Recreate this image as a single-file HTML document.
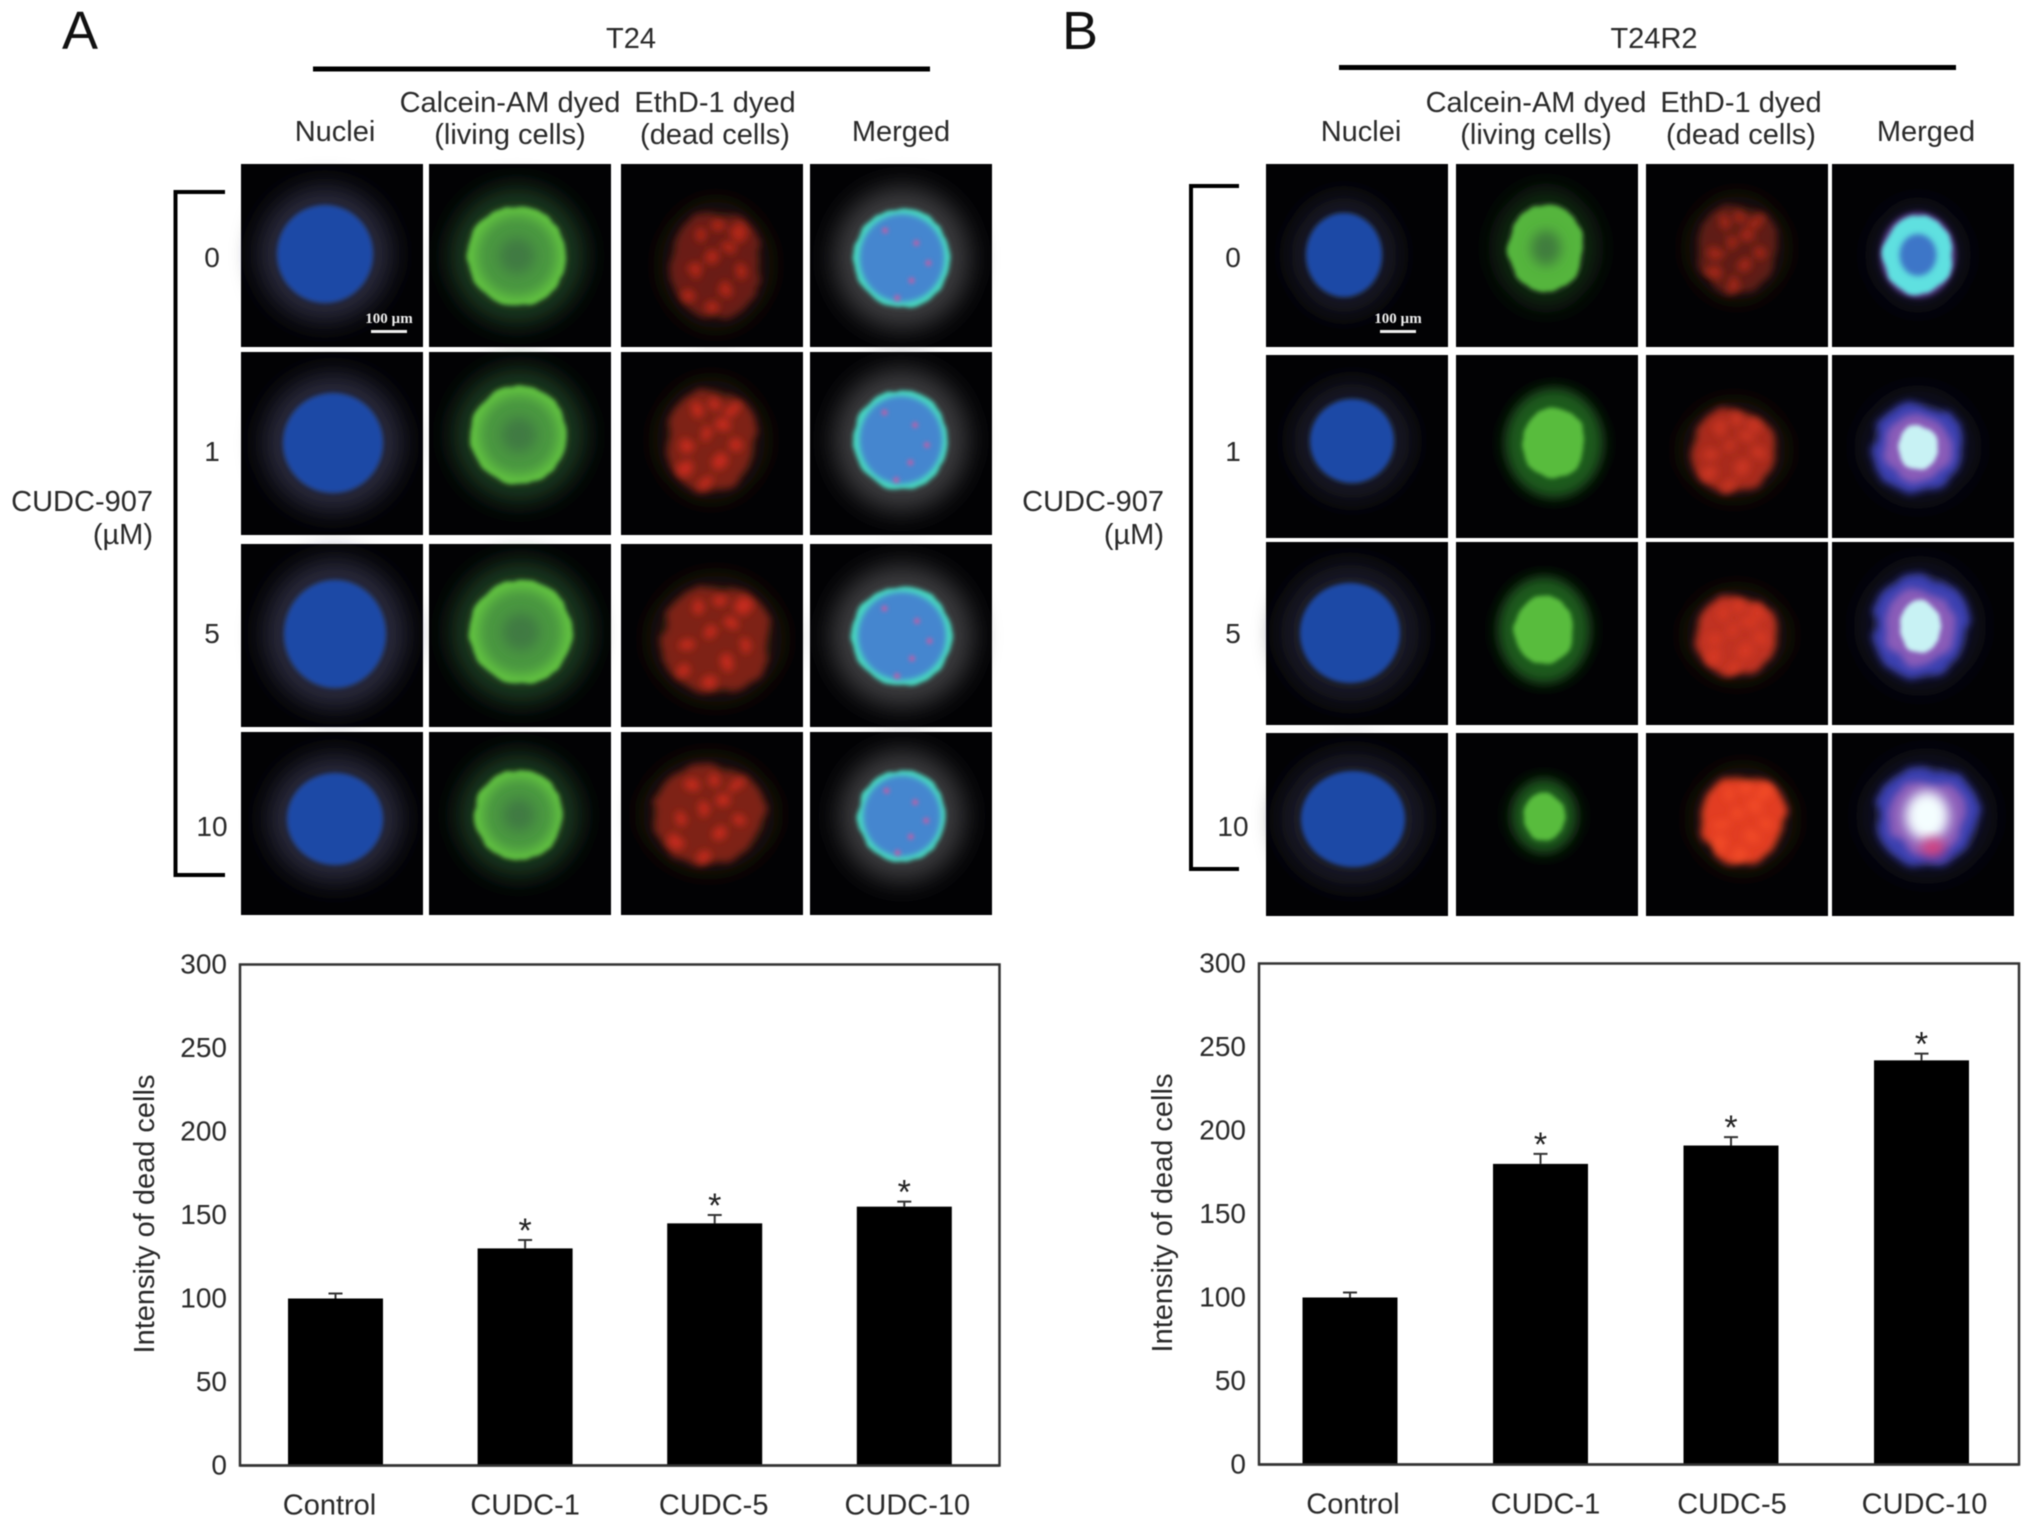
<!DOCTYPE html>
<html lang="en">
<head>
<meta charset="utf-8">
<title>CUDC-907 dead cell staining in T24 and T24R2 cells</title>
<style>
html,body{margin:0;padding:0;background:#fff;width:2032px;height:1527px;overflow:hidden}
svg{display:block;font-family:"Liberation Sans",Arial,sans-serif;fill:#2a2a2a}
#figure{filter:blur(.6px)}
</style>
</head>
<body>
<svg id="figure" xmlns="http://www.w3.org/2000/svg" width="2032" height="1527" viewBox="0 0 2032 1527">
<defs>
<filter id="b1" x="-50%" y="-50%" width="200%" height="200%"><feGaussianBlur stdDeviation="2"/></filter>
<filter id="b2" x="-50%" y="-50%" width="200%" height="200%"><feGaussianBlur stdDeviation="3"/></filter>
<filter id="b3" x="-50%" y="-50%" width="200%" height="200%"><feGaussianBlur stdDeviation="6"/></filter>
<filter id="b4" x="-60%" y="-60%" width="220%" height="220%"><feGaussianBlur stdDeviation="13"/></filter>
<filter id="rough" x="-40%" y="-40%" width="180%" height="180%"><feTurbulence type="fractalNoise" baseFrequency=".05" numOctaves="2" seed="4" result="n"/><feDisplacementMap in="SourceGraphic" in2="n" scale="6" xChannelSelector="R" yChannelSelector="G"/><feGaussianBlur stdDeviation="2.2"/></filter>
<filter id="rough2" x="-40%" y="-40%" width="180%" height="180%"><feTurbulence type="fractalNoise" baseFrequency=".035" numOctaves="3" seed="9" result="n"/><feDisplacementMap in="SourceGraphic" in2="n" scale="15" xChannelSelector="G" yChannelSelector="R"/><feGaussianBlur stdDeviation="4"/></filter>
</defs>
<g id="panel-a-header">
<text x="62" y="49" font-size="54" fill="#111">A</text>
<text x="631" y="48" font-size="29" text-anchor="middle">T24</text>
<rect x="313" y="66.500" width="617" height="5" fill="#000"/>
<text x="335" y="141" font-size="29" text-anchor="middle">Nuclei</text>
<text x="510" y="112" font-size="29" text-anchor="middle">Calcein-AM dyed</text>
<text x="510" y="144" font-size="29" text-anchor="middle">(living cells)</text>
<text x="715" y="112" font-size="29" text-anchor="middle">EthD-1 dyed</text>
<text x="715" y="144" font-size="29" text-anchor="middle">(dead cells)</text>
<text x="901" y="141" font-size="29" text-anchor="middle">Merged</text>
<text x="153" y="511" font-size="29" text-anchor="end">CUDC-907</text>
<text x="153" y="544" font-size="29" text-anchor="end">(µM)</text>
<path d="M225 192H175.500V875H225" fill="none" stroke="#000" stroke-width="4"/>
</g>
<g id="panel-b-header">
<text x="1062" y="49" font-size="54" fill="#111">B</text>
<text x="1654" y="48" font-size="29" text-anchor="middle">T24R2</text>
<rect x="1339" y="65" width="617" height="5" fill="#000"/>
<text x="1361" y="141" font-size="29" text-anchor="middle">Nuclei</text>
<text x="1536" y="112" font-size="29" text-anchor="middle">Calcein-AM dyed</text>
<text x="1536" y="144" font-size="29" text-anchor="middle">(living cells)</text>
<text x="1741" y="112" font-size="29" text-anchor="middle">EthD-1 dyed</text>
<text x="1741" y="144" font-size="29" text-anchor="middle">(dead cells)</text>
<text x="1926" y="141" font-size="29" text-anchor="middle">Merged</text>
<text x="1164" y="511" font-size="29" text-anchor="end">CUDC-907</text>
<text x="1164" y="544" font-size="29" text-anchor="end">(µM)</text>
<path d="M1239 186H1191V869H1239" fill="none" stroke="#000" stroke-width="4"/>
</g>
<g id="tiles"></g>
<g id="dose-labels"></g>
<g id="chart-a"></g>
<g id="chart-b"></g>
</svg>
<script>
/* ---------- chart data ---------- */
var categoriesA = ['Control', 'CUDC-1', 'CUDC-5', 'CUDC-10'];
var categoriesB = ['Control', 'CUDC-1', 'CUDC-5', 'CUDC-10'];
var valuesA = [100, 130, 145, 155];
var errorsA = [3, 5, 5, 3];
var valuesB = [100, 180, 191, 242];
var errorsB = [3, 6, 5, 4];
var significantA = [false, true, true, true];
var significantB = [false, true, true, true];
var yTickLabels = [0, 50, 100, 150, 200, 250, 300];
var doseLabels = ['0', '1', '5', '10'];

/* ---------- microscopy tile data: [dx, dy, rx, ry] of each cell ---------- */
var nucleiA = [[84,90,48,49],[92,91,50,50],[94,90,51,54],[94,87,48,46]];
var greenA  = [[88,92,49,50],[90,83,48,49],[92,88,51,52],[90,83,44,45]];
var redA    = [[95,101,45,55],[90,88,45,52],[95,95,55,55],[88,82,55,50]];
var mergedA = [[92,94,48,50],[91,88,47,50],[92,92,50,50],[92,84,44,46]];
var nucleiB = [[78,91,38,42],[86,86,42,42],[84,91,50,50],[87,86,52,48]];
var greenB  = [[90,84,36,42],[98,88,32,36],[88,88,30,35],[88,83,21,24]];
var redB    = [[91,84,40,45],[88,95,43,42],[91,93,42,40],[97,86,42,45]];
var mergedB = [[86,91,37,42],[86,92,46,45],[88,84,48,52],[95,83,52,50]];
var colsA = [241, 429, 621, 810];
var colsB = [1266, 1456, 1646, 1832];
var colW = 182;
var rowsA = [164, 352, 544, 732];
var rowsB = [164, 355, 542, 733];
var rowH = 183;
var spotPattern = [[-.35,-.55],[.3,-.3],[.55,.1],[.2,.45],[-.1,.8],[-.5,.1],[-.1,-.1],[.5,-.6],[-.6,.55],[.1,-.75]];

var NS = 'http://www.w3.org/2000/svg';
function mk(parent, tag, attrs, text) {
  var el = document.createElementNS(NS, tag);
  for (var k in attrs) el.setAttribute(k, attrs[k]);
  if (text !== undefined) el.textContent = text;
  parent.appendChild(el);
  return el;
}

/* ---------- microscopy tiles ---------- */
function layer(g, c, sx, sy, col, blur, extra) {
  var a = {cx: c[0], cy: c[1], rx: c[2] * sx, ry: c[3] * sy, fill: col};
  if (blur) a.filter = 'url(#' + blur + ')';
  if (extra) for (var k in extra) a[k] = extra[k];
  return mk(g, 'ellipse', a);
}
function spots(g, c, col, r, n, filt) {
  var sg = mk(g, 'g', {filter: 'url(#' + (filt || 'b1') + ')'});
  for (var i = 0; i < n; i++) {
    mk(sg, 'circle', {cx: c[0] + spotPattern[i][0] * c[2], cy: c[1] + spotPattern[i][1] * c[3], r: r, fill: col});
  }
}
function drawNuclei(g, c, sharp) {
  layer(g, c, 1.38, 1.38, sharp ? '#2b2b3c' : '#1a1a2c', 'b4');
  layer(g, c, 1, 1, '#1a49a6', 'b1');
}
function drawGreen(g, c, mode) {
  layer(g, c, 1.36, 1.36, mode === 'ring' ? '#1e3d22' : '#123016', 'b4');
  if (mode === 'ring') {
    layer(g, c, 1, 1, '#62c440', 'rough');
    layer(g, c, .82, .82, '#4a9640', 'b3');
    layer(g, c, .36, .36, '#3f7a42', 'b3');
  } else if (mode === 'hollow') {
    layer(g, c, 1.05, 1.05, '#55b53c', 'rough');
    layer(g, c, .42, .42, '#3f7d3c', 'b3');
  } else {
    layer(g, c, 1.5, 1.5, '#1c5a1e', 'b3');
    layer(g, c, .98, .98, '#58bc3c', 'rough');
  }
}
function drawRed(g, c, base, spot, n) {
  layer(g, c, 1.2, 1.15, '#241210', 'b4');
  layer(g, c, 1, 1, base, 'rough2');
  spots(g, c, spot, 7, n, 'rough2');
}
function drawMerged(g, c) {
  layer(g, c, 1.42, 1.42, '#3c3d40', 'b4');
  layer(g, c, 1, 1, '#46d8c0', 'rough');
  layer(g, c, .88, .88, '#4586cf', 'b2');
  spots(g, c, '#c05ea8', 3, 5);
}
function drawMergedB(g, c, level) {
  layer(g, c, 1.2, 1.2, '#14142a', 'b4');
  if (level === 0) {
    layer(g, c, 1.02, 1.02, '#5a3f8a', 'b2');
    layer(g, c, .94, .94, '#5fe0e0', 'rough');
    layer(g, c, .5, .5, '#3d76c8', 'b2');
    return;
  }
  layer(g, c, 1, 1, '#3a40b0', 'rough2');
  layer(g, c, .74, .74, '#8a5cb8', 'rough2');
  layer(g, c, .42, .5, level === 3 ? '#f4feff' : '#c8f2f4', level === 3 ? 'b3' : 'rough');
  if (level === 3) layer(g, [c[0] + 6, c[1] + 32, c[2], c[3]], .24, .18, '#d8407c', 'b3');
}
function tile(parent, name, x, y) {
  var g = mk(parent, 'g', {transform: 'translate(' + x + ',' + y + ')'});
  
  
  mk(g, 'rect', {x: 0, y: 0, width: colW, height: rowH, fill: '#020204'});
  return g;
}
var tilesRoot = document.getElementById('tiles');
doseLabels.forEach(function (dose, r) {
  var t;
  t = tile(tilesRoot, 't24-nuclei-dose-' + dose, colsA[0], rowsA[r]); drawNuclei(t, nucleiA[r], true);
  t = tile(tilesRoot, 't24-calcein-dose-' + dose, colsA[1], rowsA[r]); drawGreen(t, greenA[r], 'ring');
  t = tile(tilesRoot, 't24-ethd-dose-' + dose, colsA[2], rowsA[r]); drawRed(t, redA[r], r === 0 ? '#6a1a12' : '#7e2014', r === 0 ? '#b02818' : '#c42c1c', 10);
  t = tile(tilesRoot, 't24-merged-dose-' + dose, colsA[3], rowsA[r]); drawMerged(t, mergedA[r]);
  t = tile(tilesRoot, 't24r2-nuclei-dose-' + dose, colsB[0], rowsB[r]); drawNuclei(t, nucleiB[r], false);
  t = tile(tilesRoot, 't24r2-calcein-dose-' + dose, colsB[1], rowsB[r]); drawGreen(t, greenB[r], r === 0 ? 'hollow' : 'solid');
  t = tile(tilesRoot, 't24r2-ethd-dose-' + dose, colsB[2], rowsB[r]);
  drawRed(t, redB[r], ['#5e1a12', '#a82a1a', '#c03020', '#e23c20'][r], ['#a02618', '#c83422', '#d43824', '#f04a26'][r], 10);
  t = tile(tilesRoot, 't24r2-merged-dose-' + dose, colsB[3], rowsB[r]); drawMergedB(t, mergedB[r], r);
});
[[colsA[0], rowsA[0]], [colsB[0], rowsB[0]]].forEach(function (o, i) {
  var g = mk(tilesRoot, 'g', {});
  
  
  var bx = i ? o[0] + 132 : o[0] + 148;
  mk(g, 'text', {x: bx, y: o[1] + 159, 'text-anchor': 'middle', 'font-size': 15, 'font-weight': 'bold', 'font-family': '"Liberation Serif",serif', fill: '#eee'}, '100 µm');
  mk(g, 'rect', {x: bx - 18, y: o[1] + 166, width: 36, height: 3, fill: '#eee'});
});

/* dose labels */
var doseRoot = document.getElementById('dose-labels');
[[212, [258, 452, 634, 827]], [1233, [258, 452, 634, 827]]].forEach(function (p, side) {
  doseLabels.forEach(function (d, r) {
    var t = mk(doseRoot, 'text', {x: p[0], y: p[1][r] + 9, 'font-size': 28, 'text-anchor': 'middle'}, d);
    
    
  });
});

/* ---------- bar charts ---------- */
function barChart(root, opt, categories, values, errors, significant) {
  function yScale(v) { return opt.y0 - v * (opt.y0 - opt.y1) / 300; }
  function xScale(i) { return opt.first + i * opt.step; }

  var frame = mk(root, 'rect', {x: opt.x0, y: opt.y1, width: opt.x1 - opt.x0, height: opt.y0 - opt.y1, fill: '#fff', stroke: '#333', 'stroke-width': 2.5});
  
  

  yTickLabels.forEach(function (v) {
    var t = mk(root, 'text', {x: opt.x0 - 13, y: yScale(v) + 9, 'font-size': 28, 'text-anchor': 'end'}, v);
    
    
  });

  var title = mk(root, 'text', {'font-size': 29, 'text-anchor': 'middle', transform: 'translate(' + opt.titleX + ',' + ((opt.y0 + opt.y1) / 2 - 1) + ') rotate(-90)'}, 'Intensity of dead cells');
  
  

  categories.forEach(function (cat, i) {
    var cx = xScale(i), top = yScale(values[i]), errTop = yScale(values[i] + errors[i]);

    var err = mk(root, 'path', {d: 'M' + cx + ' ' + top + 'V' + errTop + 'M' + (cx - 7) + ' ' + errTop + 'H' + (cx + 7), stroke: '#333', 'stroke-width': 2, fill: 'none'});
    
    

    var bar = mk(root, 'rect', {x: cx - opt.barW / 2, y: top, width: opt.barW, height: opt.y0 - top, fill: '#000'});
    
    

    if (significant[i]) {
      var star = mk(root, 'text', {x: cx, y: errTop + 2, 'font-size': 34, 'text-anchor': 'middle', fill: '#222'}, '*');
      
      
    }

    var label = mk(root, 'text', {x: cx + opt.labelShift[i], y: opt.y0 + 49, 'font-size': 29, 'text-anchor': 'middle'}, cat);
    
    
  });
  var base = mk(root, 'line', {x1: opt.x0, x2: opt.x1, y1: opt.y0, y2: opt.y0, stroke: '#333', 'stroke-width': 2.5});
  
  
}
barChart(document.getElementById('chart-a'),
  {x0: 240, x1: 999.500, y0: 1465.500, y1: 964.500, first: 335.500, step: 189.600, barW: 95, titleX: 154, labelShift: [-6, 0, -1, 3]},
  categoriesA, valuesA, errorsA, significantA);
barChart(document.getElementById('chart-b'),
  {x0: 1259, x1: 2019, y0: 1464.500, y1: 963.500, first: 1350, step: 190.500, barW: 95, titleX: 1172, labelShift: [3, 5, 1, 3]},
  categoriesB, valuesB, errorsB, significantB);
</script>
</body>
</html>
